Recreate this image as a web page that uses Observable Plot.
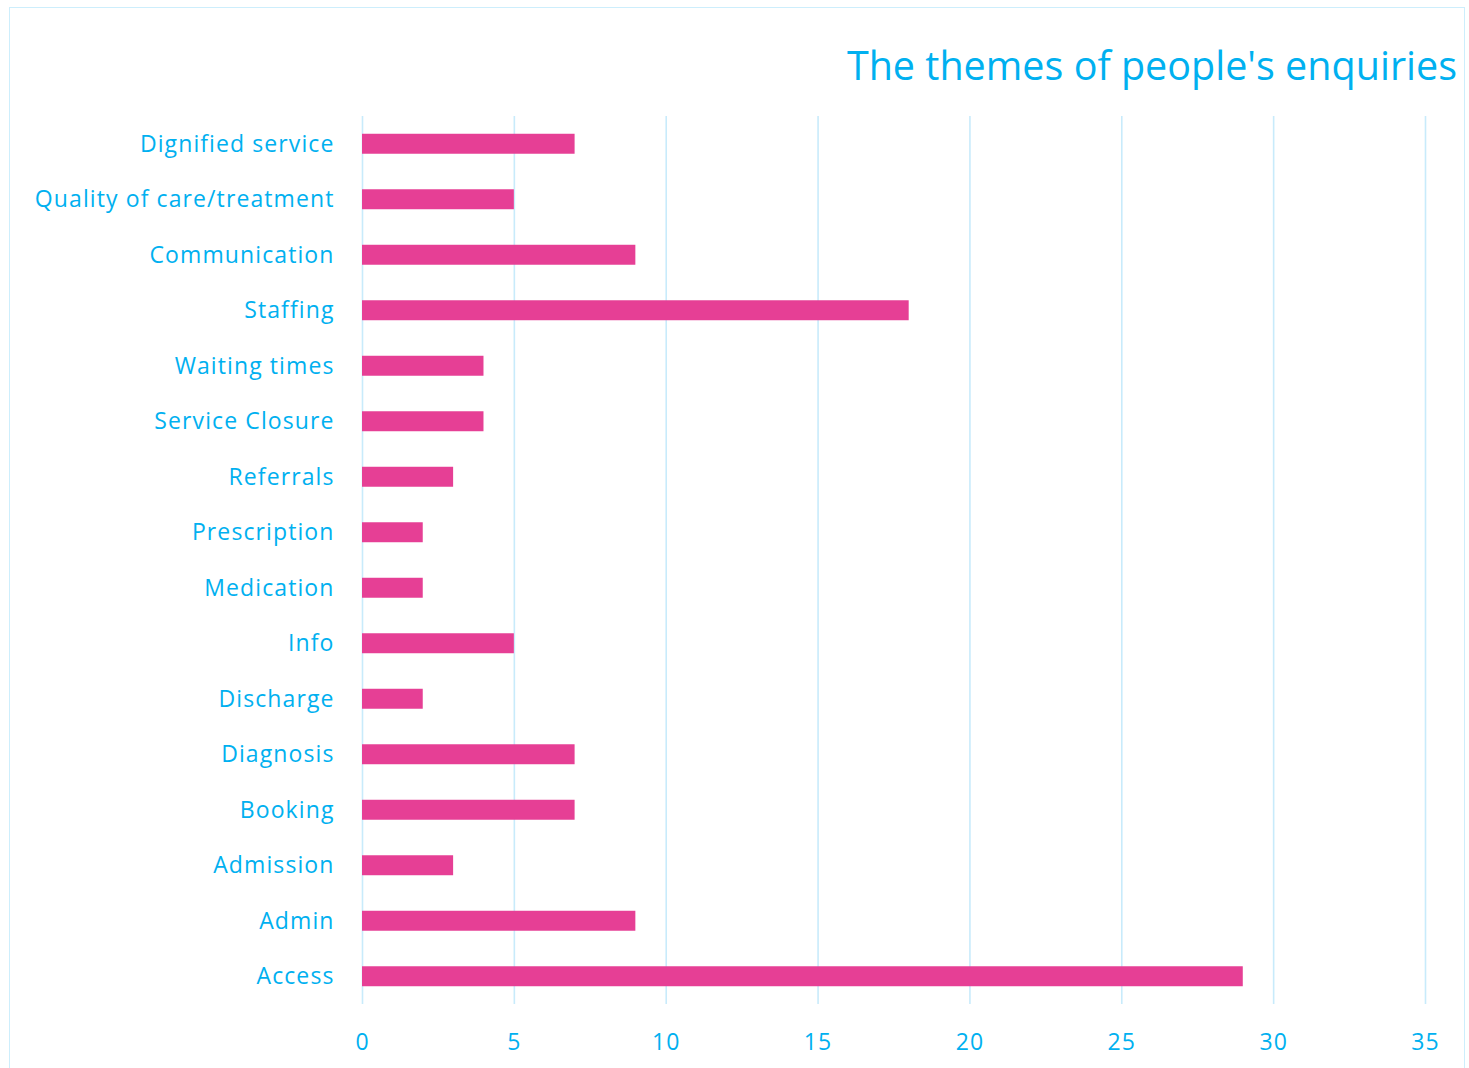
<!DOCTYPE html>
<html>
<head>
<meta charset="utf-8">
<script src="https://cdn.jsdelivr.net/npm/d3@7"></script>
<script src="https://cdn.jsdelivr.net/npm/@observablehq/plot@0.6"></script>
<style>
  html, body { margin: 0; padding: 0; background: #fff; }
  body { width: 1469px; height: 1068px; position: relative; overflow: hidden; font-family: "Open Sans", sans-serif; }
  #frame { position: absolute; left: 9px; top: 7px; width: 1456px; height: 1080px; border: 1.5px solid #cdeefc; box-sizing: border-box; }
  #title { position: absolute; right: 12px; top: 42px; font-size: 39.5px; color: #00b0f0; font-family: "Open Sans", sans-serif; white-space: nowrap; line-height: 1.2; }
  #chart { position: absolute; left: 0; top: 0; }
  #chart svg text { letter-spacing: 1.1px; }
</style>
</head>
<body>
<div id="frame"></div>
<div id="chart"></div>
<div id="title">The themes of people's enquiries</div>
<script>
const categories = ["Dignified service", "Quality of care/treatment", "Communication", "Staffing", "Waiting times", "Service Closure", "Referrals", "Prescription", "Medication", "Info", "Discharge", "Diagnosis", "Booking", "Admission", "Admin", "Access"];
const values = [7, 5, 9, 18, 4, 4, 3, 2, 2, 5, 2, 7, 7, 3, 9, 29];
const xTicks = [0, 5, 10, 15, 20, 25, 30, 35];

const data = categories.map((c, i) => ({theme: c, count: values[i]}));
const blue = "#00b0f0";

const chart = Plot.plot({
  width: 1469,
  height: 1068,
  marginLeft: 362,
  marginRight: 44,
  marginTop: 116,
  marginBottom: 64,
  style: {fontFamily: "'Open Sans', sans-serif", fontSize: "23px", color: blue, background: "transparent"},
  x: {domain: [0, 35], ticks: xTicks},
  y: {domain: categories, paddingInner: 0.64, paddingOuter: 0.32, round: false},
  marks: [
    Plot.gridX(xTicks, {stroke: "#c8ebfb", strokeOpacity: 1, strokeWidth: 1.6}),
    Plot.barX(data, {x: "count", y: "theme", fill: "#e63f95"}),
    Plot.axisX(xTicks, {tickSize: 0, tickPadding: 29, label: null, fill: blue, fontSize: 23}),
    Plot.axisY({tickSize: 0, tickPadding: 28, label: null, fill: blue, fontSize: 23})
  ]
});
document.getElementById("chart").appendChild(chart);
</script>
</body>
</html>
